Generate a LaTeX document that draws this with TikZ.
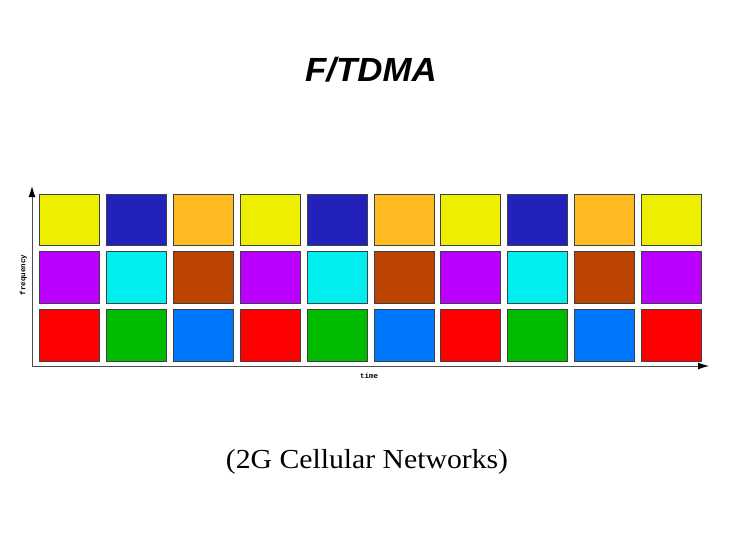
\documentclass[tikz,border=0pt]{standalone}
\usepackage{fontspec}
\setmainfont{Liberation Serif}
\setsansfont{Liberation Sans}
\setmonofont{Liberation Mono}
\usetikzlibrary{arrows.meta}
\definecolor{cY}{HTML}{EEEE00}
\definecolor{cB}{HTML}{2222BB}
\definecolor{cO}{HTML}{FFBB22}
\definecolor{cP}{HTML}{BB00FF}
\definecolor{cC}{HTML}{00EEEE}
\definecolor{cR}{HTML}{BB4400}
\definecolor{cRed}{HTML}{FF0000}
\definecolor{cG}{HTML}{00BB00}
\definecolor{cL}{HTML}{0077FF}
\tikzset{
  slot/.style={draw=black!75, line width=0.8pt, minimum width=60pt, minimum height=51.5pt, inner sep=0pt, anchor=north west},
  axis/.style={draw=black!70, line width=1pt, -{Latex[length=11pt,width=7pt,color=black]}},
  axlabel/.style={font=\ttfamily\bfseries\fontsize{7.5}{8}\selectfont, inner sep=0pt}
}
\begin{document}
\begin{tikzpicture}[x=1pt,y=-1pt]
\useasboundingbox[fill=white] (0,0) rectangle (734,550);
\node[font=\sffamily\bfseries\itshape\fontsize{33.5}{36}\selectfont, xscale=1.04, anchor=base, inner sep=0pt] (title) at (371,81.7) {F/TDMA};
\foreach \i in {0,...,9}{
  \pgfmathtruncatemacro{\m}{mod(\i,3)}
  \ifcase\m
    \def\ca{cY}\def\cb{cP}\def\cc{cRed}
  \or
    \def\ca{cB}\def\cb{cC}\def\cc{cG}
  \or
    \def\ca{cO}\def\cb{cR}\def\cc{cL}
  \fi
  \node[slot, fill=\ca] (t\i) at (39+\i*66.9,193.5) {};
  \node[slot, fill=\cb] (m\i) at (39+\i*66.9,251) {};
  \node[slot, fill=\cc] (b\i) at (39+\i*66.9,309) {};
}
\coordinate (origin) at (32,366);
\coordinate (ytop) at (32,186);
\coordinate (xend) at (709,366);
\draw[axis] (origin) -- (ytop);
\draw[axis] (origin) -- (xend);
\node[axlabel, rotate=90] (freq) at (23.5,275) {frequency};
\node[axlabel] (time) at (369,375.5) {time};
\node[font=\fontsize{27.5}{32}\selectfont, xscale=1.08, anchor=base, inner sep=0pt] (sub) at (367,468) {(2G Cellular Networks)};
\end{tikzpicture}
\end{document}
